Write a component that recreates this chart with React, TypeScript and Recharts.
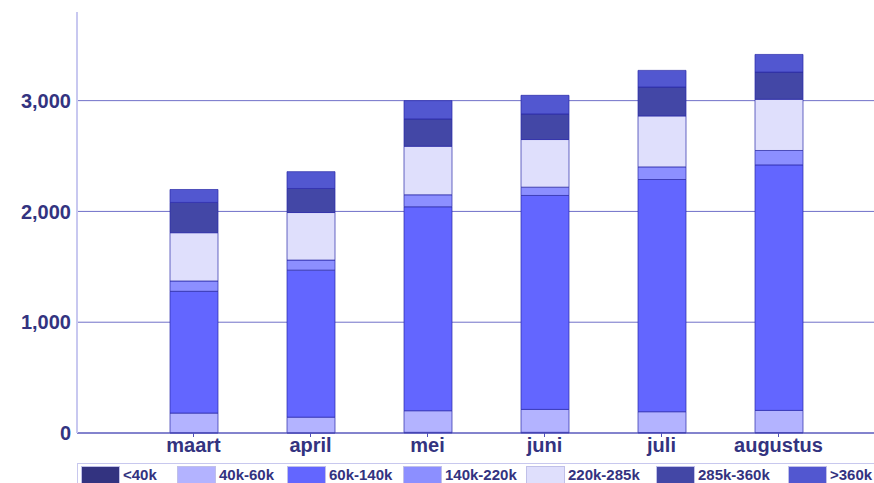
import { BarChart, Bar, XAxis, YAxis, CartesianGrid, Legend } from "recharts";

const months = ["maart", "april", "mei", "juni", "juli", "augustus"];

const under40 = [3, 2, 6, 6, 4, 4];
const k40to60 = [177, 141, 195, 207, 188, 200];
const k60to140 = [1099, 1327, 1841, 1931, 2096, 2216];
const k140to220 = [93, 91, 108, 75, 114, 130];
const k220to285 = [436, 429, 438, 430, 460, 462];
const k285to360 = [273, 217, 247, 231, 261, 246];
const over360 = [117, 152, 165, 168, 150, 159];

const yTicks = [0, 1000, 2000, 3000];

const series = [
  { key: "lt40", name: "<40k", values: under40, color: "#333380" },
  { key: "k40", name: "40k-60k", values: k40to60, color: "#b3b3ff" },
  { key: "k60", name: "60k-140k", values: k60to140, color: "#6366ff" },
  { key: "k140", name: "140k-220k", values: k140to220, color: "#8c8fff" },
  { key: "k220", name: "220k-285k", values: k220to285, color: "#dfdffc" },
  { key: "k285", name: "285k-360k", values: k285to360, color: "#4347a6" },
  { key: "gt360", name: ">360k", values: over360, color: "#5257d0" },
];

// left edge of each legend swatch, relative to the legend box
const legendX = [3, 99, 209, 325, 448, 578, 710];

const data = months.map((month, i) => {
  const row: Record<string, string | number> = { month };
  series.forEach((s) => {
    row[s.key] = s.values[i];
  });
  return row;
});

const textColor = "#333380";
const font = "'Liberation Sans', Arial, sans-serif";

const LegendBox = () => (
  <div
    style={{
      position: "relative",
      marginLeft: 77,
      marginTop: 1,
      height: 26,
      border: "1px solid #c8c8ee",
      borderRight: "none",
      background: "#fff",
      boxSizing: "border-box",
    }}
  >
    {series.map((s, i) => (
      <div
        key={s.key}
        style={{ position: "absolute", left: legendX[i], top: 2, display: "flex", alignItems: "center", whiteSpace: "nowrap" }}
      >
        <span
          style={{
            display: "inline-block",
            width: 39,
            height: 18,
            background: s.color,
            border: "1px solid #c0c0e8",
            boxSizing: "border-box",
          }}
        />
        <span
          style={{
            marginLeft: 3,
            fontFamily: font,
            fontWeight: "bold",
            fontSize: 15,
            color: textColor,
            lineHeight: "18px",
          }}
        >
          {s.name}
        </span>
      </div>
    ))}
  </div>
);

export default function App() {
  return (
    <div style={{ position: "absolute", left: 0, top: 0, width: 874, height: 483, overflow: "hidden", background: "#fff" }}>
      <BarChart
        width={874}
        height={483}
        data={data}
        margin={{ top: 12, right: 0, bottom: 0, left: 0 }}
        barSize={48}
      >
        <CartesianGrid vertical={false} syncWithTicks stroke="#7070c8" strokeWidth={1} />
        <XAxis
          dataKey="month"
          padding={{ left: 58, right: 37 }}
          height={29}
          stroke="#5050b8"
          tickSize={4}
          tickMargin={1}
          tick={{ fill: textColor, fontSize: 20, fontWeight: "bold", fontFamily: font }}
        />
        <YAxis
          width={77}
          domain={[0, 3800]}
          ticks={yTicks}
          interval={0}
          axisLine={{ stroke: "#c8c8f0", strokeWidth: 2 }}
          tickLine={false}
          tickSize={4}
          tickMargin={2}
          tickFormatter={(v: number) => v.toLocaleString("en-US")}
          tick={{ fill: textColor, fontSize: 20, fontWeight: "bold", fontFamily: font }}
        />
        <Legend
          verticalAlign="bottom"
          align="left"
          wrapperStyle={{ height: 21, left: 0, width: 874 }}
          content={() => <LegendBox />}
        />
        {series.map((s) => (
          <Bar
            key={s.key}
            dataKey={s.key}
            name={s.name}
            stackId="a"
            fill={s.color}
            stroke="#2a2aa8"
            strokeOpacity={0.7}
            strokeWidth={1}
            isAnimationActive={false}
          />
        ))}
      </BarChart>
    </div>
  );
}
